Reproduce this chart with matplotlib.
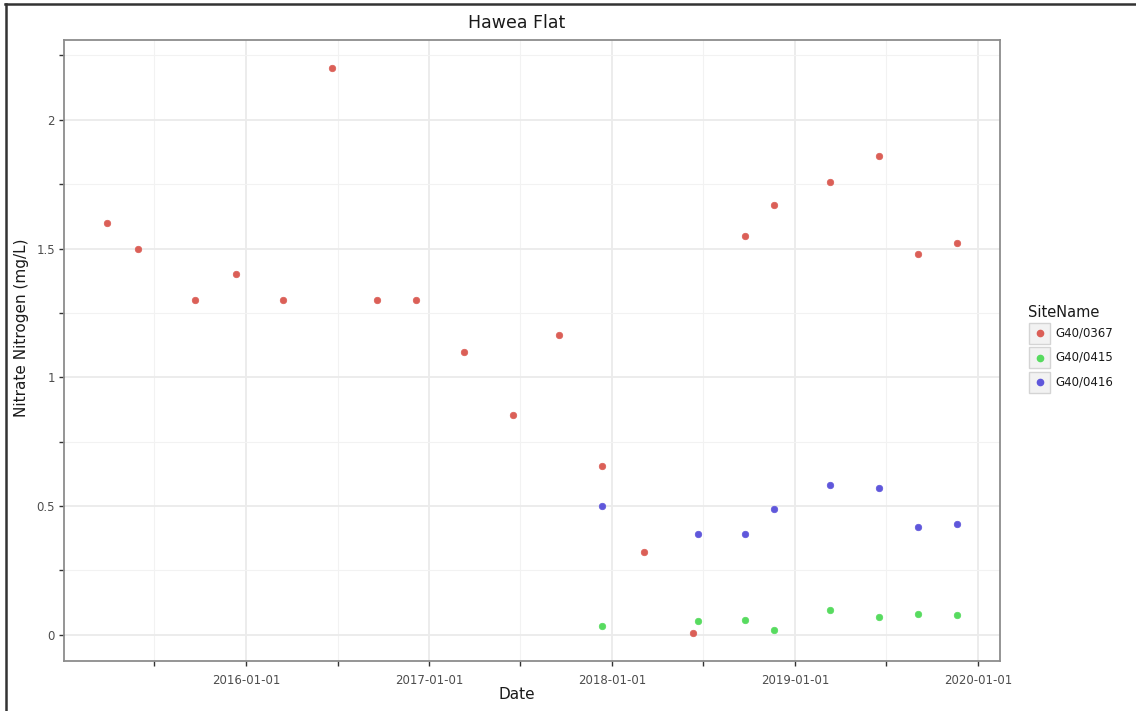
# Hawea Flat nitrate scatter, recreated in plain matplotlib
import pandas as pd
import matplotlib
matplotlib.use('Agg')
import matplotlib.pyplot as plt
import matplotlib.dates as mdates
from matplotlib.lines import Line2D
from matplotlib.patches import Rectangle

#%% data
site_names = ['G40/0367', 'G40/0415', 'G40/0416']
site_colors = ['#db5f57', '#57db5f', '#5f57db']

dates_0367 = ['2015-03-29', '2015-05-31', '2015-09-21', '2015-12-13', '2016-03-15',
              '2016-06-20', '2016-09-19', '2016-12-05', '2017-03-12', '2017-06-17',
              '2017-09-17', '2017-12-12', '2018-03-06', '2018-06-12', '2018-09-24',
              '2018-11-19', '2019-03-11', '2019-06-17', '2019-09-03', '2019-11-21']
no3_0367 = [1.60, 1.50, 1.30, 1.40, 1.30, 2.20, 1.30, 1.30, 1.10, 0.855,
            1.165, 0.655, 0.32, 0.008, 1.55, 1.67, 1.76, 1.86, 1.48, 1.52]

dates_0415 = ['2017-12-12', '2018-06-22', '2018-09-24', '2018-11-19',
              '2019-03-11', '2019-06-17', '2019-09-03', '2019-11-21']
no3_0415 = [0.033, 0.052, 0.057, 0.017, 0.096, 0.068, 0.080, 0.078]

dates_0416 = ['2017-12-12', '2018-06-22', '2018-09-24', '2018-11-19',
              '2019-03-11', '2019-06-17', '2019-09-03', '2019-11-21']
no3_0416 = [0.50, 0.39, 0.39, 0.49, 0.58, 0.57, 0.42, 0.43]

y_major = [0, 0.5, 1, 1.5, 2]
y_labels = ['0', '0.5', '1', '1.5', '2']
y_minor = [0.25, 0.75, 1.25, 1.75, 2.25]

series = [(dates_0367, no3_0367), (dates_0415, no3_0415), (dates_0416, no3_0416)]

#%% figure
W, H = 1136, 711
fig = plt.figure(figsize=(W / 100, H / 100), dpi=100)
ax = fig.add_axes([64 / W, 1 - 661 / H, (1000 - 64) / W, (661 - 40) / H])

for (d, v), c in zip(series, site_colors):
    ax.scatter(pd.to_datetime(d), v, s=22, color=c, edgecolors=c, linewidths=0.5, zorder=3)

ax.margins(x=0.05, y=0.05)

# axes styling (ggplot theme_bw look)
ax.xaxis.set_major_locator(mdates.YearLocator())
ax.xaxis.set_minor_locator(mdates.MonthLocator(bymonth=[7], bymonthday=2))
ax.xaxis.set_major_formatter(mdates.DateFormatter('%Y-%m-%d'))
ax.set_yticks(y_major)
ax.set_yticklabels(y_labels)
ax.set_yticks(y_minor, minor=True)

ax.grid(which='major', color='#ebebeb', linewidth=1.3, zorder=0)
ax.grid(which='minor', color='#f2f2f2', linewidth=0.8, zorder=0)
ax.set_axisbelow(True)
for sp in ax.spines.values():
    sp.set_color('#8c8c8c')
    sp.set_linewidth(1.3)

ax.tick_params(which='both', direction='out', length=3.5, width=1.0, color='#333333',
               labelsize=8.5, labelcolor='#4d4d4d')
ax.tick_params(axis='x', pad=6)
ax.tick_params(axis='y', pad=3)

#%% texts
fig.text(517 / W, 1 - 28 / H, 'Hawea Flat', ha='center', va='baseline', fontsize=12.5, color='#1a1a1a')
fig.text(517 / W, 1 - 699 / H, 'Date', ha='center', va='baseline', fontsize=11, color='#1a1a1a')
fig.text(22 / W, 1 - 328 / H, 'Nitrate Nitrogen (mg/L)', ha='center', va='center',
         rotation=90, fontsize=11, color='#1a1a1a')

#%% legend (drawn by hand to get the grey key boxes)
fig.text(1028 / W, 1 - 317 / H, 'SiteName', ha='left', va='baseline', fontsize=10.5, color='#1a1a1a')
for i, (name, c) in enumerate(zip(site_names, site_colors)):
    yc = 333 + i * 24.5
    fig.add_artist(Rectangle(((1029) / W, 1 - (yc + 10.5) / H), 21 / W, 21 / H,
                             transform=fig.transFigure, facecolor='#f2f2f2',
                             edgecolor='#d4d4d4', linewidth=1.0))
    fig.add_artist(Line2D([1039.5 / W], [1 - yc / H], transform=fig.transFigure,
                          marker='o', markersize=4.5, color=c, linestyle='none'))
    fig.text(1055 / W, 1 - yc / H, name, ha='left', va='center', fontsize=8.5, color='#1a1a1a')

#%% border of the screenshot (top and left only)
fig.add_artist(Line2D([5 / W, 1], [1 - 4 / H, 1 - 4 / H], transform=fig.transFigure,
                      color='#333333', linewidth=1.8))
fig.add_artist(Line2D([5.5 / W, 5.5 / W], [0, 1 - 4 / H], transform=fig.transFigure,
                      color='#333333', linewidth=1.8))

fig.savefig('out.png', dpi=100)
